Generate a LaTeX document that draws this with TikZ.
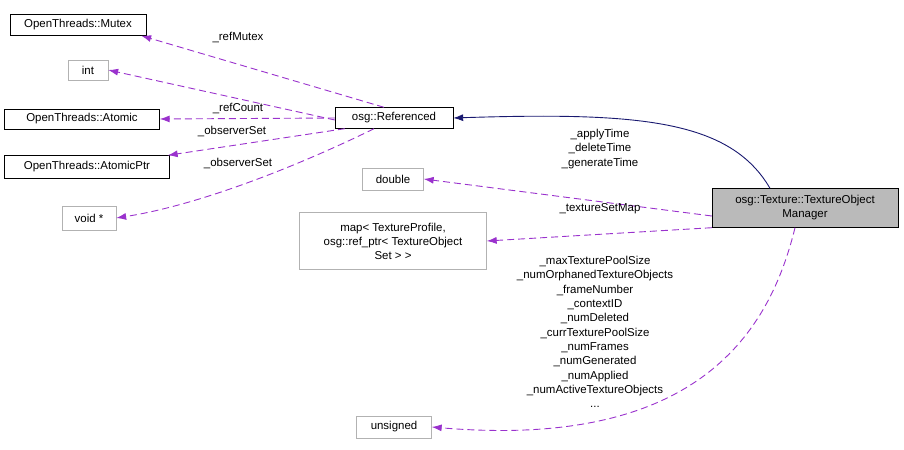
\documentclass[tikz,border=0pt]{standalone}
\usepackage{fontspec}
\setmainfont{Liberation Sans}
\usetikzlibrary{arrows.meta}

\definecolor{purp}{HTML}{9A32CD}
\definecolor{navy}{HTML}{191970}
\tikzset{
  cls/.style={draw=black, fill=white, inner sep=2pt, font=\fontsize{11.5}{14}\selectfont, align=center},
  ext/.style={cls, draw=gray!60},
  use/.style={dash pattern=on 7bp off 4bp, line width=0.9bp, color=purp, -{Latex[length=10pt,width=7pt]}},
  inh/.style={line width=0.9bp, color=navy, -{Latex[length=10pt,width=7pt]}},
  lbl/.style={font=\fontsize{11.5}{14.4}\selectfont, align=center, inner sep=0pt}
}

\begin{document}
\begin{tikzpicture}[x=1bp,y=-1bp]
  \useasboundingbox (0,0) rectangle (904,450);

  % classes
  \node[cls, minimum width=136bp, minimum height=21bp] (mutex) at (78,25) {OpenThreads::Mutex};
  \node[ext, minimum width=40bp, minimum height=20bp] (int) at (88,70) {int};
  \node[cls, minimum width=155bp, minimum height=20bp] (atomic) at (82,119) {OpenThreads::Atomic};
  \node[cls, minimum width=165bp, minimum height=23bp] (atomicptr) at (87,167) {OpenThreads::AtomicPtr};
  \node[ext, minimum width=54bp, minimum height=24bp] (void) at (89,218) {void *};
  \node[cls, minimum width=118bp, minimum height=21bp] (ref) at (394,118) {osg::Referenced};
  \node[ext, minimum width=61bp, minimum height=22bp] (double) at (393,179) {double};
  \node[ext, minimum width=187bp, minimum height=57bp] (map) at (393,241)
    {map\textless{} TextureProfile,\\ osg::ref\_ptr\textless{} TextureObject\\ Set \textgreater{} \textgreater{}};
  \node[ext, minimum width=75bp, minimum height=22bp] (unsigned) at (394,427) {unsigned};
  \node[cls, fill=black!27, minimum width=186bp, minimum height=39bp] (tom) at (805,208)
    {osg::Texture::TextureObject\\Manager};

  % connectors
  \coordinate (r1) at ([xshift=-10bp]ref.north);
  \draw[use] (r1) -- ([xshift=-5bp]mutex.south east);
  \draw[use] ([yshift=-2bp]ref.west) -- (int.east);
  \draw[use] (ref.west) -- (atomic.east);
  \coordinate (r3) at ([xshift=10bp]ref.south west);
  \draw[use] (r3) -- ([xshift=-2bp]atomicptr.north east);
  \coordinate (r4) at ([xshift=-20bp]ref.south);
  \draw[use] (r4) .. controls (300,165) and (200,205) .. (void.east);
  \coordinate (t1) at ([xshift=-35bp]tom.north);
  \draw[inh] (t1) .. controls (730,120) and (640,112) .. (ref.east);
  \draw[use] ([yshift=-8bp]tom.west) -- (double.east);
  \draw[use] (tom.south west) -- (map.east);
  \coordinate (t3) at ([xshift=-10bp]tom.south);
  \draw[use] (t3) .. controls (770,330) and (700,450) .. (unsigned.east);

  % labels
  \node[lbl] (lmutex) at (238,37) {\_refMutex};
  \node[lbl] (lcount) at (238,108) {\_refCount};
  \node[lbl] (lobs1) at (232,131) {\_observerSet};
  \node[lbl] (lobs2) at (238,163) {\_observerSet};
  \node[lbl] (ltime) at (600,149) {\_applyTime\\\_deleteTime\\\_generateTime};
  \node[lbl] (lmap) at (600,209) {\_textureSetMap};
  \node[lbl, anchor=north] (lnum) at (595,256) {\_maxTexturePoolSize\\\_numOrphanedTextureObjects\\\_frameNumber\\\_contextID\\\_numDeleted\\\_currTexturePoolSize\\\_numFrames\\\_numGenerated\\\_numApplied\\\_numActiveTextureObjects\\...};
\end{tikzpicture}
\end{document}
